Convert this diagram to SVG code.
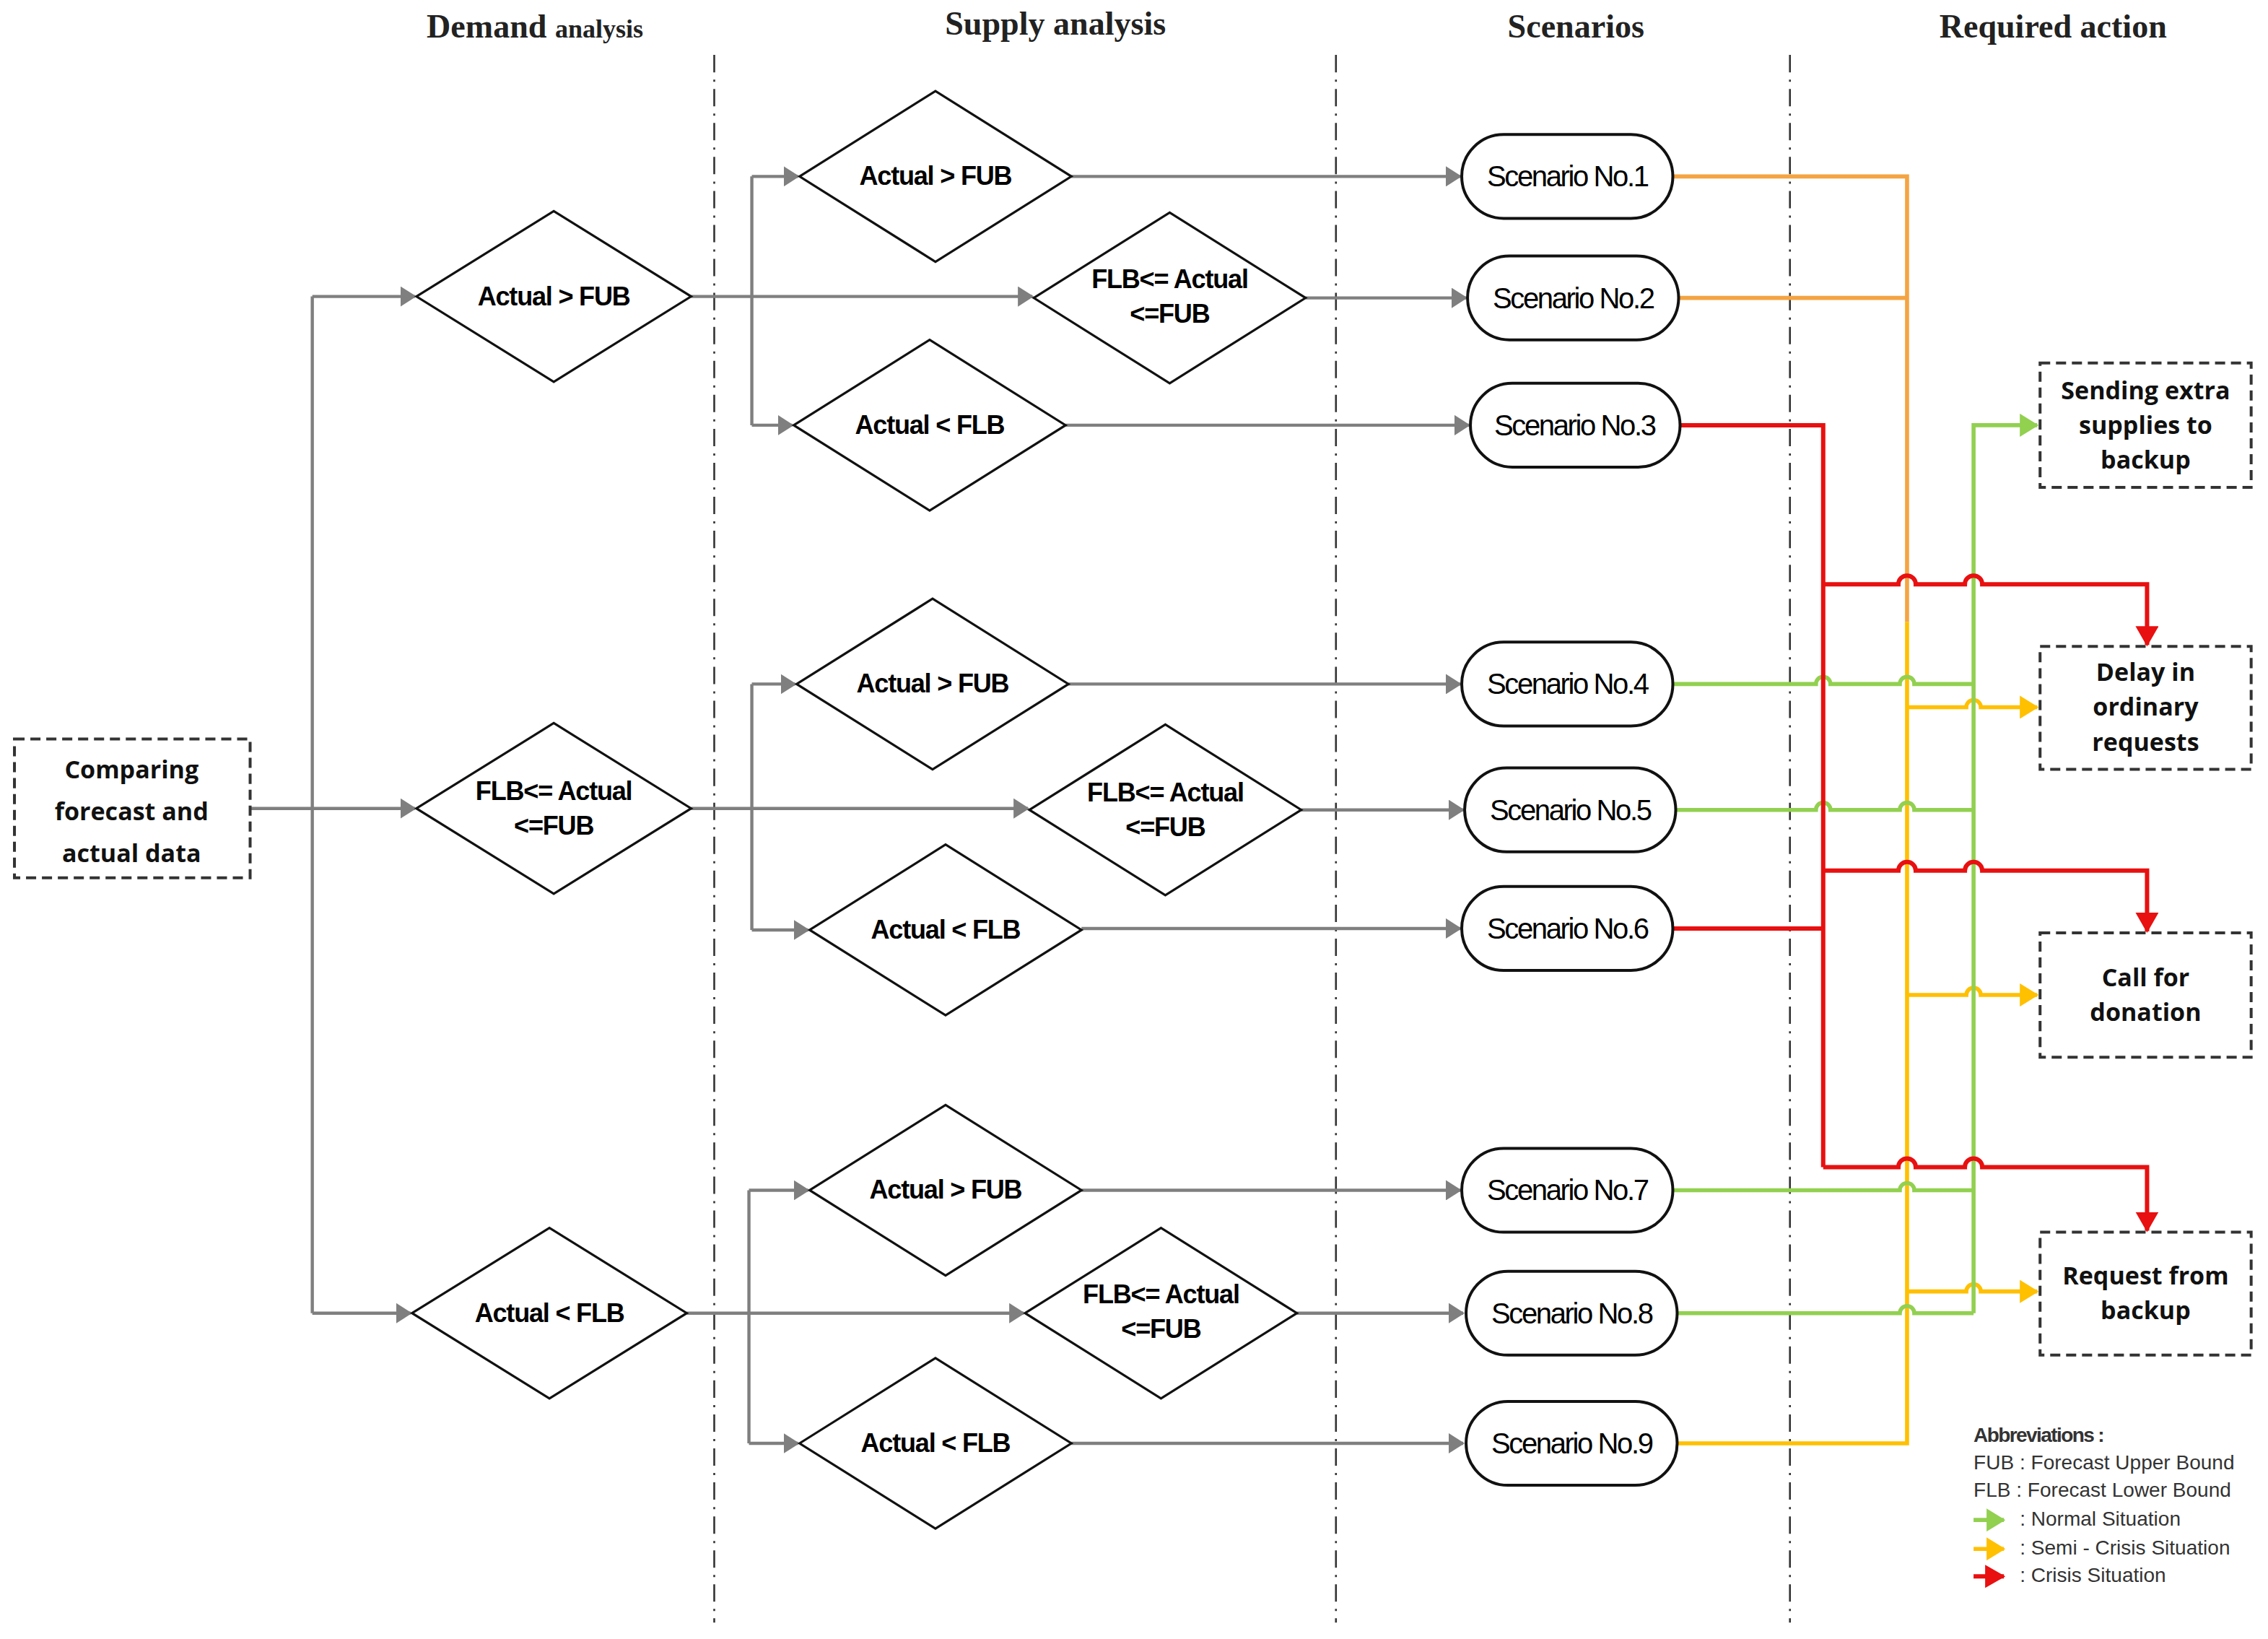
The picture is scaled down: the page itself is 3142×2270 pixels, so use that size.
<svg xmlns="http://www.w3.org/2000/svg" width="3142" height="2270" viewBox="0 0 3142 2270">
<style>
.hdr{font-family:"Liberation Serif",serif;font-weight:bold;font-size:23px;fill:#222;text-anchor:middle}
.dt{font-family:"Liberation Sans",Arial,sans-serif;font-weight:bold;font-size:18px;fill:#000;text-anchor:middle;letter-spacing:-0.6px}
.st{font-family:"Liberation Sans",Arial,sans-serif;font-size:20px;fill:#000;text-anchor:middle;letter-spacing:-1.2px}
.at{font-family:"Open Sans","Liberation Sans",sans-serif;font-weight:bold;font-size:17px;fill:#111;text-anchor:middle}
.lg{font-family:"Liberation Sans",Arial,sans-serif;font-size:14px;fill:#333}
.dia{fill:#fff;stroke:#111;stroke-width:1.6}
.pill{fill:#fff;stroke:#111;stroke-width:2}
.box{fill:#fff;stroke:#333;stroke-width:2;stroke-dasharray:7,4}
.sep{stroke:#333;stroke-width:1.3;stroke-dasharray:12,5,1.5,5;fill:none}
.g{fill:none;stroke:#7f7f7f;stroke-width:2.2}
.o{fill:none;stroke:#F4A442;stroke-width:2.8}
.y{fill:none;stroke:#FFC000;stroke-width:2.8}
.r{fill:none;stroke:#E81010;stroke-width:3}
.n{fill:none;stroke:#92D050;stroke-width:2.8}
</style>
<defs>
<marker id="ag" markerWidth="12" markerHeight="14" refX="10" refY="7" orient="auto" markerUnits="userSpaceOnUse"><path d="M0,0 L11,7 L0,14 z" fill="#7f7f7f"/></marker>
<marker id="ay" markerWidth="14" markerHeight="16" refX="12" refY="8" orient="auto" markerUnits="userSpaceOnUse"><path d="M0,0 L13,8 L0,16 z" fill="#FFC000"/></marker>
<marker id="ar" markerWidth="16" markerHeight="16" refX="13" refY="8" orient="auto" markerUnits="userSpaceOnUse"><path d="M0,0 L14,8 L0,16 z" fill="#E81010"/></marker>
<marker id="an" markerWidth="14" markerHeight="16" refX="12" refY="8" orient="auto" markerUnits="userSpaceOnUse"><path d="M0,0 L13,8 L0,16 z" fill="#92D050"/></marker>
</defs>
<rect width="3142" height="2270" fill="#fff"/>
<g transform="scale(2.003)">
<g id="headers">
<text class="hdr" x="370" y="26">Demand <tspan font-size="18px">analysis</tspan></text>
<text class="hdr" x="730" y="24">Supply analysis</text>
<text class="hdr" x="1090" y="26">Scenarios</text>
<text class="hdr" x="1420" y="26">Required action</text>
</g>
<g id="separators">
<line class="sep" x1="494" y1="38" x2="494" y2="1122"/>
<line class="sep" x1="924" y1="38" x2="924" y2="1122"/>
<line class="sep" x1="1238" y1="38" x2="1238" y2="1122"/>
</g>
<g id="connectors">
<path class="g" d="M173,559 H216"/>
<path class="g" d="M216,205 V908"/>
<path class="g" d="M216,205 H287" marker-end="url(#ag)"/>
<path class="g" d="M216,559 H287" marker-end="url(#ag)"/>
<path class="g" d="M216,908 H284" marker-end="url(#ag)"/>
<path class="g" d="M478,205 H714" marker-end="url(#ag)"/>
<path class="g" d="M520,122 V294"/>
<path class="g" d="M520,122 H552" marker-end="url(#ag)"/>
<path class="g" d="M520,294 H548" marker-end="url(#ag)"/>
<path class="g" d="M478,559 H711" marker-end="url(#ag)"/>
<path class="g" d="M520,473 V643"/>
<path class="g" d="M520,473 H550" marker-end="url(#ag)"/>
<path class="g" d="M520,643 H559" marker-end="url(#ag)"/>
<path class="g" d="M475,908 H708" marker-end="url(#ag)"/>
<path class="g" d="M518,823 V998"/>
<path class="g" d="M518,823 H559" marker-end="url(#ag)"/>
<path class="g" d="M518,998 H552" marker-end="url(#ag)"/>
<path class="g" d="M741,122 H1010" marker-end="url(#ag)"/>
<path class="g" d="M903,206 H1014" marker-end="url(#ag)"/>
<path class="g" d="M737,294 H1016" marker-end="url(#ag)"/>
<path class="g" d="M739,473 H1010" marker-end="url(#ag)"/>
<path class="g" d="M900,560 H1012" marker-end="url(#ag)"/>
<path class="g" d="M748,642 H1010" marker-end="url(#ag)"/>
<path class="g" d="M748,823 H1010" marker-end="url(#ag)"/>
<path class="g" d="M897,908 H1012" marker-end="url(#ag)"/>
<path class="g" d="M741,998 H1012" marker-end="url(#ag)"/>
<path class="o" d="M1157,122 H1319 V430"/>
<path class="o" d="M1161,206 H1319"/>
<path class="y" d="M1319,430 V998 H1159"/>
<path class="y" d="M1319,489 H1360 a5,5 0 0 1 10,0 H1409" marker-end="url(#ay)"/>
<path class="y" d="M1319,688 H1360 a5,5 0 0 1 10,0 H1409" marker-end="url(#ay)"/>
<path class="y" d="M1319,893 H1360 a5,5 0 0 1 10,0 H1409" marker-end="url(#ay)"/>
<path class="n" d="M1365,908 V294 H1409" marker-end="url(#an)"/>
<path class="n" d="M1157,473 H1256 a5,5 0 0 1 10,0 H1314 a5,5 0 0 1 10,0 H1365"/>
<path class="n" d="M1159,560 H1256 a5,5 0 0 1 10,0 H1314 a5,5 0 0 1 10,0 H1365"/>
<path class="n" d="M1157,823 H1314 a5,5 0 0 1 10,0 H1365"/>
<path class="n" d="M1159,908 H1314 a5,5 0 0 1 10,0 H1365"/>
<path class="r" d="M1162,294 H1261 V807"/>
<path class="r" d="M1157,642 H1261"/>
<path class="r" d="M1261,404 H1313 a6,6 0 0 1 12,0 H1359 a6,6 0 0 1 12,0 H1485 V446" marker-end="url(#ar)"/>
<path class="r" d="M1261,602 H1313 a6,6 0 0 1 12,0 H1359 a6,6 0 0 1 12,0 H1485 V644" marker-end="url(#ar)"/>
<path class="r" d="M1261,807 H1313 a6,6 0 0 1 12,0 H1359 a6,6 0 0 1 12,0 H1485 V851" marker-end="url(#ar)"/>
</g>
<g id="start"><rect class="box" x="10" y="511" width="163" height="96"/>
<text class="at" x="91" y="538" font-size="19px">Comparing</text><text class="at" x="91" y="567" font-size="19px">forecast and</text><text class="at" x="91" y="596" font-size="19px">actual data</text></g>
<g id="d1"><polygon class="dia" points="288,205 383,146 478,205 383,264"/><text class="dt" x="383" y="211">Actual  &gt; FUB</text></g>
<g id="d2"><polygon class="dia" points="288,559 383,500 478,559 383,618"/><text class="dt" x="383" y="553">FLB&lt;= Actual</text><text class="dt" x="383" y="577">&lt;=FUB</text></g>
<g id="d3"><polygon class="dia" points="285,908 380,849 475,908 380,967"/><text class="dt" x="380" y="914">Actual &lt; FLB</text></g>
<g id="s1"><polygon class="dia" points="553,122 647,63 741,122 647,181"/><text class="dt" x="647" y="128">Actual  &gt; FUB</text></g>
<g id="s2"><polygon class="dia" points="715,206 809,147 903,206 809,265"/><text class="dt" x="809" y="199">FLB&lt;= Actual</text><text class="dt" x="809" y="223">&lt;=FUB</text></g>
<g id="s3"><polygon class="dia" points="549,294 643,235 737,294 643,353"/><text class="dt" x="643" y="300">Actual &lt; FLB</text></g>
<g id="s4"><polygon class="dia" points="551,473 645,414 739,473 645,532"/><text class="dt" x="645" y="479">Actual  &gt; FUB</text></g>
<g id="s5"><polygon class="dia" points="712,560 806,501 900,560 806,619"/><text class="dt" x="806" y="554">FLB&lt;= Actual</text><text class="dt" x="806" y="578">&lt;=FUB</text></g>
<g id="s6"><polygon class="dia" points="560,643 654,584 748,643 654,702"/><text class="dt" x="654" y="649">Actual &lt; FLB</text></g>
<g id="s7"><polygon class="dia" points="560,823 654,764 748,823 654,882"/><text class="dt" x="654" y="829">Actual  &gt; FUB</text></g>
<g id="s8"><polygon class="dia" points="709,908 803,849 897,908 803,967"/><text class="dt" x="803" y="901">FLB&lt;= Actual</text><text class="dt" x="803" y="925">&lt;=FUB</text></g>
<g id="s9"><polygon class="dia" points="553,998 647,939 741,998 647,1057"/><text class="dt" x="647" y="1004">Actual &lt; FLB</text></g>
<g id="sc1"><rect class="pill" x="1011" y="93" width="146" height="58" rx="29"/><text class="st" x="1084" y="129">Scenario No.1</text></g>
<g id="sc2"><rect class="pill" x="1015" y="177" width="146" height="58" rx="29"/><text class="st" x="1088" y="213">Scenario No.2</text></g>
<g id="sc3"><rect class="pill" x="1017" y="265" width="145" height="58" rx="29"/><text class="st" x="1089" y="301">Scenario No.3</text></g>
<g id="sc4"><rect class="pill" x="1011" y="444" width="146" height="58" rx="29"/><text class="st" x="1084" y="480">Scenario No.4</text></g>
<g id="sc5"><rect class="pill" x="1013" y="531" width="146" height="58" rx="29"/><text class="st" x="1086" y="567">Scenario No.5</text></g>
<g id="sc6"><rect class="pill" x="1011" y="613" width="146" height="58" rx="29"/><text class="st" x="1084" y="649">Scenario No.6</text></g>
<g id="sc7"><rect class="pill" x="1011" y="794" width="146" height="58" rx="29"/><text class="st" x="1084" y="830">Scenario No.7</text></g>
<g id="sc8"><rect class="pill" x="1014" y="879" width="146" height="58" rx="29"/><text class="st" x="1087" y="915">Scenario No.8</text></g>
<g id="sc9"><rect class="pill" x="1014" y="969" width="146" height="58" rx="29"/><text class="st" x="1087" y="1005">Scenario No.9</text></g>
<g id="a1"><rect class="box" x="1411" y="251" width="146" height="86"/><text class="at" x="1484" y="276">Sending extra</text><text class="at" x="1484" y="300">supplies to</text><text class="at" x="1484" y="324">backup</text></g>
<g id="a2"><rect class="box" x="1411" y="447" width="146" height="85"/><text class="at" x="1484" y="471">Delay in</text><text class="at" x="1484" y="495">ordinary</text><text class="at" x="1484" y="519">requests</text></g>
<g id="a3"><rect class="box" x="1411" y="645" width="146" height="86"/><text class="at" x="1484" y="682">Call for</text><text class="at" x="1484" y="706">donation</text></g>
<g id="a4"><rect class="box" x="1411" y="852" width="146" height="85"/><text class="at" x="1484" y="888">Request from</text><text class="at" x="1484" y="912">backup</text></g>
<g id="legend">
<text class="lg" x="1365" y="997" font-weight="bold" letter-spacing="-0.8">Abbreviations :</text>
<text class="lg" x="1365" y="1016">FUB : Forecast Upper Bound</text>
<text class="lg" x="1365" y="1035">FLB  : Forecast Lower Bound</text>
<path class="n" d="M1365,1051 H1386" marker-end="url(#an)"/>
<text class="lg" x="1397" y="1055">: Normal Situation</text>
<path class="y" d="M1365,1071 H1386" marker-end="url(#ay)"/>
<text class="lg" x="1397" y="1075">: Semi - Crisis Situation</text>
<path class="r" d="M1365,1090 H1386" marker-end="url(#ar)"/>
<text class="lg" x="1397" y="1094">: Crisis Situation</text>
</g>
</g>
</svg>
